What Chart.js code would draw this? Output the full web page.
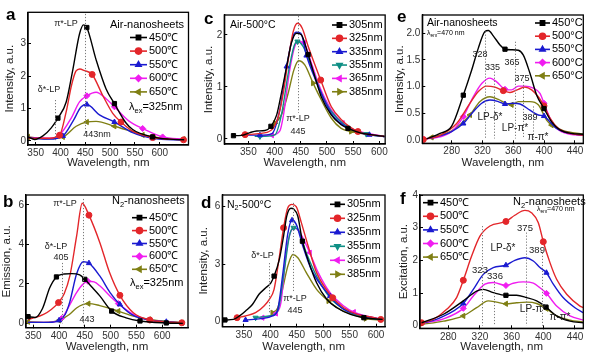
<!DOCTYPE html>
<html>
<head>
<meta charset="utf-8">
<script src="https://cdn.jsdelivr.net/npm/chart.js@4.4.1/dist/chart.umd.min.js"></script>
<style>
  html, body { margin: 0; padding: 0; background: #fff; width: 591px; height: 352px; overflow: hidden; }
  canvas { position: absolute; }
</style>
</head>
<body>
<canvas id="pa" width="197" height="176" style="left:0;top:0"></canvas>
<canvas id="pc" width="196" height="176" style="left:197px;top:0"></canvas>
<canvas id="pe" width="198" height="176" style="left:393px;top:0"></canvas>
<canvas id="pb" width="197" height="180" style="left:0;top:176px"></canvas>
<canvas id="pd" width="196" height="180" style="left:197px;top:176px"></canvas>
<canvas id="pf" width="198" height="180" style="left:393px;top:176px"></canvas>
<script>
// ---- data (wavelength nm, intensity a.u.) ----
const tempLabels = ['450℃', '500℃', '550℃', '600℃', '650℃'];
const tempLabelsE = ['450°C', '500°C', '550°C', '600°C', '650°C'];
const excLabels = ['305nm', '325nm', '335nm', '355nm', '365nm', '385nm'];

const xTicksEm = [350, 400, 450, 500, 550, 600];
const xTicksEx = [280, 320, 360, 400, 440];
const yTicksA = [0, 1, 2, 3];
const yTicksB = [0, 2, 4, 6];
const yTicksC = [0, 1, 2];
const yTicksD = [0, 3, 6];
const yTicksE = [0, 0.5, 1.0, 1.5, 2.0];
const yTicksF = [0, 1, 2, 3, 4];

// a: Air-nanosheets emission, λex=325nm
const a450 = [[334.5,0.12],[347.9,0.04],[364.6,0.15],[381.4,0.4],[394.8,0.7],[411.5,1.2],[424.9,2.2],[438.3,3.3],[446.4,3.58],[453.1,3.5],[471.8,2.5],[491.9,1.6],[508.7,1.15],[532.1,0.55],[545.5,0.35],[585.7,0.12],[619.2,0.05],[649.3,0.03]];
const a500 = [[334.5,0.08],[378,0.08],[398.1,0.17],[411.5,0.9],[422,1.7],[431,2.15],[439,2.22],[448,2.17],[463.8,2.05],[485.2,1.4],[505.3,0.85],[522,0.58],[545.5,0.3],[585.7,0.1],[619.2,0.05],[648,0.03]];
const a550 = [[334.5,0.1],[378,0.05],[404.8,0.15],[424.9,0.6],[441.7,1.05],[453.1,1.12],[478.5,0.8],[508.7,0.58],[545.5,0.25],[585.7,0.08],[648,0.02]];
const a600 = [[334.5,0.1],[378,0.08],[398.1,0.18],[421.6,0.7],[438.3,1.2],[453.1,1.39],[471.8,1.5],[491.9,1.3],[508.7,1.05],[538.8,0.6],[565.6,0.38],[605.8,0.12],[648,0.05]];
const a650 = [[334.5,0.12],[371.3,0.06],[404.8,0.12],[431.6,0.45],[453.1,0.58],[471.8,0.6],[508.7,0.45],[545.5,0.28],[565.6,0.18],[605.8,0.08],[648,0.05]];

// b: N2-nanosheets emission, λex=325nm
const b450 = [[340,0.34],[354,0.3],[368,0.75],[382,1.8],[395,2.35],[410,2.5],[425,2.52],[440,2.45],[450,2.23],[465,1.8],[479,1.39],[502,0.62],[530,0.28],[557,0.12],[608,0.02],[640,0]];
const b500 = [[340,0.2],[355,0.3],[370,0.45],[385,0.7],[399,1.05],[410,1.5],[421,2.4],[434,4.4],[445,6.08],[458,5.48],[479,4.1],[498,2.57],[518,1.42],[544,0.54],[576,0.17],[608,0.07],[638,0.03]];
const b550 = [[340,0.05],[380,0.05],[400,0.15],[412,0.45],[421,1.1],[434,2.5],[447,3.12],[458,3.05],[479,2.4],[499,1.56],[518,0.96],[544,0.4],[576,0.17],[608,0.08],[638,0.03]];
const b600 = [[340,0.05],[380,0.05],[405,0.25],[420,0.9],[434,1.56],[447,2.0],[456,2.13],[468,2.1],[479,1.9],[500,1.35],[515,1.0],[544,0.46],[576,0.17],[608,0.06],[638,0.03]];
const b650 = [[340,0.08],[370,0.05],[400,0.15],[420,0.45],[434,0.78],[446,0.95],[457,1.0],[479,0.9],[500,0.75],[515,0.62],[544,0.37],[575,0.2],[608,0.1],[638,0.03]];

// c: Air-500°C emission at several excitation wavelengths
const c305 = [[321.5,0.06],[337,0.065],[353,0.12],[366,0.15],[381.7,0.16],[393,0.24],[404,0.46],[413,0.88],[423,1.39],[432,1.84],[441.8,2.03],[451,2.0],[464,1.62],[476.6,1.2],[489,0.81],[508,0.46],[527,0.27],[540,0.2],[565,0.11],[584,0.08],[609.5,0.045]];
const c325 = [[336,0.08],[343.7,0.08],[369,0.1],[394,0.17],[407,0.43],[416.5,0.88],[426,1.52],[435.5,2.06],[443.7,2.22],[452.5,2.13],[464,1.78],[488,1.13],[508,0.62],[527,0.37],[559,0.14],[609.5,0.045]];
const c335 = [[345,0.07],[372,0.07],[395,0.1],[410,0.56],[423,1.39],[435,1.97],[441.8,2.05],[450,2.03],[460.8,1.6],[476.6,1.17],[508,0.49],[533,0.25],[565,0.11],[581,0.077],[609.5,0.04]];
const c355 = [[362,0.05],[372,0.045],[400.6,0.077],[413,0.46],[426,1.26],[437,1.78],[443.7,1.87],[454,1.78],[470,1.39],[489,0.88],[508,0.53],[533.6,0.27],[575,0.09],[609.5,0.045]];
const c365 = [[375,0.06],[395,0.07],[410,0.15],[416.5,0.43],[429,1.33],[438.6,1.78],[446,1.87],[456,1.84],[470,1.46],[486,1.0],[508,0.56],[530,0.3],[552.6,0.17],[609.5,0.045]];
const c385 = [[396,0.28],[400.6,0.3],[413,0.46],[426,0.88],[437,1.33],[446,1.5],[457.6,1.42],[473.4,1.07],[489,0.75],[508,0.4],[527,0.2],[546,0.14],[584,0.077],[609.5,0.05]];

// d: N2-500°C emission at several excitation wavelengths
const d305 = [[314,0.09],[330,0.12],[343,0.33],[353,0.56],[366,0.9],[378.5,1.43],[391.3,1.77],[401,2.03],[407,2.38],[417,3.25],[425,4.47],[431,5.51],[439,5.92],[444,5.88],[452,5.5],[460.6,4.2],[471,3.25],[487.5,2.03],[506.7,1.17],[526,0.73],[551.6,0.38],[577,0.21],[612.5,0.12]];
const d325 = [[337,0.21],[353,0.3],[372,0.47],[388,0.82],[398,1.17],[407,1.69],[416,3.2],[425,4.9],[433,5.95],[440.7,6.12],[449,6.0],[458.6,5.17],[471.5,3.95],[487.5,2.56],[518,1.25],[539,0.73],[564.6,0.38],[596.6,0.21],[609,0.12]];
const d335 = [[353,0.09],[382,0.16],[404,0.3],[414,0.64],[423,2.38],[433,4.6],[441,5.29],[449,5.08],[461.4,3.95],[477.4,2.73],[513,1.34],[539,0.64],[577,0.3],[612.5,0.12]];
const d355 = [[372,0.21],[397.8,0.3],[414,0.56],[425,2.38],[436,4.47],[444,4.9],[452,4.82],[468,3.6],[487.5,2.38],[513,1.25],[545,0.56],[575,0.25],[606,0.12]];
const d365 = [[385,0.21],[401,0.3],[410.6,0.43],[420,0.99],[430,3.6],[439,4.73],[445.6,4.87],[454,4.73],[474.5,3.6],[490.6,2.56],[513,1.51],[539,0.82],[558,0.5],[612.5,0.12]];
const d385 = [[404,0.47],[414,0.73],[423,1.69],[433,2.9],[442.6,3.51],[452,3.34],[468,2.56],[487.5,1.69],[510,1.08],[532,0.64],[564.6,0.3],[580.6,0.16],[612.5,0.09]];

// e: Air-nanosheets excitation, λem=470nm
const e450 = [[247.6,0.025],[264.9,0.125],[280,0.26],[295.1,0.84],[306,1.31],[314.6,1.72],[323.2,2.03],[327.6,2.05],[334,1.95],[342.7,1.78],[349.2,1.7],[357.8,1.69],[366.5,1.68],[373,1.59],[381.6,1.25],[390.3,0.84],[399.8,0.59],[409.7,0.34],[420.5,0.19],[435.7,0.125],[450.8,0.11]];
const e500 = [[243.2,0.01],[264.9,0.09],[286.5,0.31],[303.8,0.69],[314.6,0.91],[325.4,1.01],[336.2,0.99],[347,0.925],[355.7,0.89],[366.5,0.95],[375,0.99],[383.8,0.94],[392.4,0.81],[399.8,0.64],[407.6,0.41],[418.4,0.22],[433.5,0.125],[450.8,0.09]];
const e550 = [[252,0.03],[280,0.16],[295.1,0.31],[308,0.53],[319,0.69],[329.7,0.75],[340.5,0.72],[349.2,0.675],[360,0.69],[368.6,0.675],[381.6,0.56],[392.4,0.47],[399.8,0.45],[407.6,0.34],[416,0.22],[433.5,0.125],[450.8,0.09]];
const e600 = [[243.2,0.02],[264.9,0.06],[280,0.16],[295.1,0.44],[308,0.81],[319,1.06],[329.7,1.16],[338.4,1.09],[349.2,0.95],[357.8,0.94],[366.5,1.01],[375,1.01],[386,0.97],[394.6,0.875],[399.8,0.69],[407.6,0.41],[416,0.22],[433.5,0.11],[450.8,0.09]];
const e650 = [[254,0.05],[280,0.175],[303.8,0.47],[316.8,0.72],[329.7,0.81],[340.5,0.76],[349.2,0.7],[357.8,0.66],[366.5,0.72],[381.6,0.72],[392.4,0.66],[403.2,0.375],[409.7,0.28],[424.9,0.175],[450.8,0.11]];

// f: N2-nanosheets excitation, λem=470nm
const f450 = [[246.3,0.09],[274,0.35],[299,0.76],[315.8,1.06],[324.2,1.11],[336.8,1.01],[352.8,0.93],[366.3,0.93],[379,0.86],[391.6,0.76],[403.4,0.57],[416.8,0.3],[433.7,0.14],[450.5,0.09]];
const f500 = [[246.3,0.09],[261,0.19],[278,0.5],[290.5,0.86],[299,1.39],[309.5,2.13],[320,2.74],[332.6,3.05],[352.8,3.19],[364,3.38],[376.8,3.53],[385,3.46],[393.7,3.15],[400,2.57],[408.4,1.93],[416.8,1.42],[429.5,0.96],[446.3,0.6],[450.5,0.55]];
const f550 = [[246.3,0.07],[269.5,0.24],[299,0.68],[311.6,1.11],[324.2,1.57],[336.8,1.78],[352.8,1.85],[364,2.0],[376.8,2.08],[387.4,1.98],[395.8,1.78],[404,1.62],[412.6,1.27],[425,0.86],[440,0.55],[450.5,0.4]];
const f600 = [[246.3,0.07],[274,0.21],[299,0.53],[311.6,0.91],[326.3,1.27],[336.8,1.32],[352.8,1.23],[362,1.3],[374.7,1.34],[387.4,1.3],[395.8,1.16],[404,0.99],[416.8,0.6],[433.7,0.3],[450.5,0.17]];
const f650 = [[246.3,0.04],[274,0.14],[299,0.3],[315.8,0.55],[330.5,0.76],[341,0.72],[352.8,0.67],[366.3,0.7],[379,0.72],[391.6,0.68],[404,0.52],[416.8,0.3],[433.7,0.17],[450.5,0.11]];

// dotted guide lines: [wavelength, y from, y to]
const aGuides = [[450, 3.92, 0.25], [388, 1.26, 0.02]];
const bGuides = [[447, 6.3, -0.1], [405, 3.06, 0]];
const cGuides = [[445, 2.36, 0.5]];
const dGuides = [[443, 6.2, 1.6], [398, 3.06, 0.45]];
const eGuides = [[323.2, 2.03, 0.03], [334.9, 1.28, 0.03], [362.2, 1.84, 0.03], [373, 1.09, 0.03], [386, 0.63, 0.03]];
const fGuides = [[322, 3.05, 0], [337.7, 1.37, 0], [378, 2.85, 0], [398, 2.23, 0]];

// ---- styles ----
const FONT = 'Liberation Sans, Arial, sans-serif';
const COL = { k: '#000000', r: '#e3262a', b: '#1a1ad0', t: '#0f8f85', m: '#f01cf0', o: '#7f7f14' };
const SYM = {
  sq: ['rect', 0], ci: ['circle', 0], up: ['triangle', 0], dn: ['triangle', 180],
  di: ['rectRot', 0], lt: ['triangle', -90], rt: ['triangle', 90]
};

function drawRich(ctx, text, x, y, size, align, weight) {
  const parts = text.split(/_\{([^}]*)\}/);
  const fn = (i) => (weight || '') + ' ' + (i % 2 ? size * 0.68 : size) + 'px ' + FONT;
  let w = 0;
  parts.forEach((p, i) => { ctx.font = fn(i); w += ctx.measureText(p).width; });
  let cx = align === 'center' ? x - w / 2 : (align === 'right' ? x - w : x);
  ctx.textAlign = 'left';
  parts.forEach((p, i) => {
    ctx.font = fn(i);
    ctx.fillText(p, cx, i % 2 ? y + size * 0.32 : y);
    cx += ctx.measureText(p).width;
  });
}

const deco = {
  id: 'deco',
  afterDatasetsDraw(chart, args, o) {
    const { ctx, chartArea: ca, scales } = chart;
    ctx.save();
    ctx.translate(-o.ox, -o.oy); // page coordinates for texts
    ctx.translate(o.ox, o.oy);
    // dotted guides
    ctx.strokeStyle = '#7a7a7a';
    ctx.lineWidth = 1;
    ctx.setLineDash([1.2, 1.8]);
    o.guides.forEach(g => {
      const px = Math.round(scales.x.getPixelForValue(g[0])) + 0.5;
      ctx.beginPath();
      ctx.moveTo(px, scales.y.getPixelForValue(g[1]));
      ctx.lineTo(px, scales.y.getPixelForValue(g[2]));
      ctx.stroke();
    });
    ctx.setLineDash([]);
    // frame
    ctx.strokeStyle = '#000';
    ctx.lineWidth = 1.3;
    ctx.strokeRect(ca.left, ca.top, ca.right - ca.left, ca.bottom - ca.top);
    // legend
    const L = o.legend;
    chart.data.datasets.forEach((ds, i) => {
      const lx = L.x - o.ox, ly = L.y + i * L.dy - o.oy;
      ctx.strokeStyle = ds.borderColor;
      ctx.fillStyle = ds.borderColor;
      ctx.lineWidth = 1.6;
      ctx.beginPath(); ctx.moveTo(lx, ly); ctx.lineTo(lx + L.len, ly); ctx.stroke();
      Chart.helpers.drawPoint(ctx, { pointStyle: ds.pointStyle, rotation: ds.pointRotation, radius: 3, borderWidth: 1 }, lx + L.len / 2, ly);
      ctx.fillStyle = '#000';
      ctx.textBaseline = 'middle';
      drawRich(ctx, ds.label, lx + L.len + 2, ly, L.size, 'left');
    });
    // texts
    o.texts.forEach(t => {
      ctx.fillStyle = t.c || '#222';
      ctx.textBaseline = t.base || 'middle';
      drawRich(ctx, t.s, t.x - o.ox, t.y - o.oy, t.size, t.align || 'center', t.bold ? 'bold' : '');
    });
    ctx.restore();
  }
};

function makePanel(p) {
  new Chart(document.getElementById(p.id), {
    type: 'line',
    data: {
      datasets: p.series.map(s => ({
        label: s.label,
        data: s.pts.map(q => ({ x: q[0], y: q[1] })),
        borderColor: s.color,
        backgroundColor: s.color,
        borderWidth: 1.4,
        pointStyle: SYM[s.sym][0],
        pointRotation: SYM[s.sym][1],
        pointRadius: ctx => (s.marks.includes(ctx.dataIndex) ? 3 : 0),
        pointBorderWidth: 1,
        cubicInterpolationMode: 'monotone',
        fill: false
      }))
    },
    options: {
      responsive: false,
      animation: false,
      events: [],
      layout: { padding: p.pad },
      plugins: {
        legend: { display: false },
        tooltip: { enabled: false },
        deco: { ox: p.ox, oy: p.oy, guides: p.guides, texts: p.texts, legend: p.legend }
      },
      scales: {
        x: {
          type: 'linear', min: p.xr[0], max: p.xr[1],
          afterBuildTicks: s => { s.ticks = p.xt.map(v => ({ value: v })); },
          afterFit: s => { s.height = p.xh; },
          grid: { drawOnChartArea: false, drawTicks: true, tickLength: -3, color: '#000', tickWidth: 1 },
          border: { display: true, color: '#000', width: 1.3 },
          ticks: { autoSkip: false, maxRotation: 0, padding: p.xtp, color: '#333', font: { family: FONT, size: 10 } },
          title: { display: true, text: 'Wavelength, nm', color: '#222', font: { family: FONT, size: 11.5 }, padding: { top: 0, bottom: p.xtb } }
        },
        y: {
          type: 'linear', min: p.yr[0], max: p.yr[1],
          afterBuildTicks: s => { s.ticks = p.yt.map(v => ({ value: v })); },
          afterFit: s => { s.width = p.yw; },
          grid: { drawOnChartArea: false, drawTicks: true, tickLength: -3, color: '#000', tickWidth: 1 },
          border: { display: true, color: '#000', width: 1.3 },
          ticks: { padding: 5, color: '#333', font: { family: FONT, size: 10 }, callback: p.yfmt || (v => v) },
          title: { display: true, text: p.ytitle, color: '#222', font: { family: FONT, size: 11.5 }, padding: { top: p.ytp, bottom: 0 } }
        }
      }
    },
    plugins: [deco]
  });
}

const tempSeries = (arr, labels, marks) => arr.map((pts, i) => ({
  label: labels[i], pts, color: [COL.k, COL.r, COL.b, COL.m, COL.o][i],
  sym: ['sq', 'ci', 'up', 'di', 'lt'][i], marks: marks[i]
}));
const excSeries = (arr, marks) => arr.map((pts, i) => ({
  label: excLabels[i], pts, color: [COL.k, COL.r, COL.b, COL.t, COL.m, COL.o][i],
  sym: ['sq', 'ci', 'up', 'dn', 'lt', 'rt'][i], marks: marks[i]
}));

makePanel({
  id: 'pa', ox: 0, oy: 0, pad: { left: 0, right: 8.5, top: 12.3, bottom: 0 }, yw: 28, xh: 31,
  xr: [334.5, 658], yr: [-0.13, 3.97], xt: xTicksEm, yt: yTicksA, xtp: 5, xtb: 6.4, ytp: 3.4,
  ytitle: 'Intensity, a.u.',
  series: tempSeries([a450, a500, a550, a600, a650], tempLabels,
    [[4, 9, 12, 15], [2, 8, 11, 13, 15], [2, 5, 7, 9], [2, 5, 8, 10, 11], [0, 2, 4, 6, 8, 10]]),
  guides: aGuides,
  legend: { x: 130, y: 37.5, dy: 13.6, len: 17, size: 11 },
  texts: [
    { s: 'a', x: 6, y: 20, size: 17, bold: true, align: 'left', base: 'alphabetic', c: '#000' },
    { s: 'π*-LP', x: 66, y: 24, size: 9 },
    { s: 'δ*-LP', x: 49, y: 90, size: 9 },
    { s: '443nm', x: 97, y: 135, size: 9 },
    { s: 'Air-nanosheets', x: 110, y: 25, size: 11, align: 'left', c: '#000' },
    { s: 'λ_{ex}=325nm', x: 129, y: 107, size: 11, align: 'left', c: '#000' }
  ]
});

makePanel({
  id: 'pc', ox: 197, oy: 0, pad: { left: 0, right: 7.3, top: 15, bottom: 0 }, yw: 27.3, xh: 32,
  xr: [304, 611], yr: [-0.1, 2.38], xt: xTicksEm, yt: yTicksC, xtp: 5, xtb: 6.4, ytp: 5.4,
  ytitle: 'Intensity, a.u.',
  series: excSeries([c305, c325, c335, c355, c365, c385],
    [[0, 5, 12, 17], [1, 11, 14], [1, 4, 8, 13], [1, 6, 12], [1, 7, 11], [1, 7, 11]]),
  guides: cGuides,
  legend: { x: 332, y: 25, dy: 13.35, len: 15, size: 11 },
  texts: [
    { s: 'c', x: 204, y: 24, size: 17, bold: true, align: 'left', base: 'alphabetic', c: '#000' },
    { s: 'Air-500°C', x: 230, y: 25, size: 10.5, align: 'left', c: '#000' },
    { s: 'π*-LP', x: 298, y: 119, size: 9 },
    { s: '445', x: 298, y: 132, size: 9 }
  ]
});

makePanel({
  id: 'pe', ox: 393, oy: 0, pad: { left: 0, right: 7.7, top: 15, bottom: 0 }, yw: 29.3, xh: 32.7,
  xr: [241.9, 450.8], yr: [-0.06, 2.34], xt: xTicksEx, yt: yTicksE, xtp: 5, xtb: 6.4, ytp: 0,
  ytitle: 'Intensity, a.u.', yfmt: v => v.toFixed(1),
  series: tempSeries([e450, e500, e550, e600, e650], tempLabelsE,
    [[3, 10, 16], [0, 7, 13], [2, 7, 12], [0, 3, 8, 14], [0, 2, 7, 12]]),
  guides: eGuides,
  legend: { x: 535, y: 23, dy: 13.2, len: 15, size: 11 },
  texts: [
    { s: 'e', x: 397, y: 22, size: 17, bold: true, align: 'left', base: 'alphabetic', c: '#000' },
    { s: 'Air-nanosheets', x: 427, y: 23, size: 10.5, align: 'left', c: '#000' },
    { s: 'λ_{em}=470 nm', x: 427, y: 33, size: 7, align: 'left', c: '#000' },
    { s: '328', x: 480, y: 55, size: 9 },
    { s: '335', x: 492.5, y: 68, size: 9 },
    { s: '365', x: 512, y: 63, size: 9 },
    { s: '375', x: 522, y: 79, size: 9 },
    { s: '389', x: 530, y: 118, size: 9 },
    { s: 'LP-δ*', x: 490, y: 117, size: 10 },
    { s: 'LP-π*', x: 515, y: 128, size: 10 },
    { s: 'π-π*', x: 538, y: 137, size: 10 }
  ]
});

makePanel({
  id: 'pb', ox: 0, oy: 176, pad: { left: 0, right: 9, top: 19, bottom: 0 }, yw: 26, xh: 28.3,
  xr: [336, 650], yr: [-0.22, 6.5], xt: xTicksEm, yt: yTicksB, xtp: 6, xtb: 2.4, ytp: 0.4,
  ytitle: 'Emission, a.u.',
  series: tempSeries([b450, b500, b550, b600, b650], tempLabels,
    [[0, 4, 8, 11, 13, 14], [4, 9, 12, 14, 16], [2, 7, 10, 13], [2, 6, 10, 12], [0, 2, 6, 9, 11, 13]]),
  guides: bGuides,
  legend: { x: 132, y: 217.7, dy: 12.9, len: 15, size: 11 },
  texts: [
    { s: 'b', x: 3, y: 207, size: 17, bold: true, align: 'left', base: 'alphabetic', c: '#000' },
    { s: 'π*-LP', x: 65, y: 204, size: 9 },
    { s: 'δ*-LP', x: 56, y: 247, size: 9 },
    { s: '405', x: 61, y: 258, size: 9 },
    { s: '443', x: 87, y: 320, size: 9 },
    { s: 'N_{2}-nanosheets', x: 112, y: 201, size: 11, align: 'left', c: '#000' },
    { s: 'λ_{ex}=325nm', x: 130, y: 283, size: 11, align: 'left', c: '#000' }
  ]
});

makePanel({
  id: 'pd', ox: 197, oy: 176, pad: { left: 0, right: 8, top: 19, bottom: 0 }, yw: 25.3, xh: 29.3,
  xr: [309, 617], yr: [-0.26, 6.61], xt: xTicksEm, yt: yTicksD, xtp: 6, xtb: 2.4, ytp: 0.4,
  ytitle: 'Intensity, a.u.',
  series: excSeries([d305, d325, d335, d355, d365, d385],
    [[0, 8, 15, 21], [0, 7, 14, 18], [0, 6, 10], [0, 5, 11], [0, 2, 8, 12], [0, 8, 11]]),
  guides: dGuides,
  legend: { x: 330, y: 204.3, dy: 14, len: 15, size: 11 },
  texts: [
    { s: 'd', x: 201, y: 208, size: 17, bold: true, align: 'left', base: 'alphabetic', c: '#000' },
    { s: 'N_{2}-500°C', x: 227, y: 205, size: 10.5, align: 'left', c: '#000' },
    { s: 'δ*-LP', x: 262.5, y: 256, size: 9 },
    { s: 'π*-LP', x: 295, y: 299, size: 9 },
    { s: '445', x: 295, y: 311, size: 9 }
  ]
});

makePanel({
  id: 'pf', ox: 393, oy: 176, pad: { left: 0, right: 7.7, top: 19, bottom: 0 }, yw: 27, xh: 27.7,
  xr: [244.3, 450.5], yr: [-0.08, 4.0], xt: xTicksEx, yt: yTicksF, xtp: 6, xtb: 2.4, ytp: 4.4,
  ytitle: 'Excitation, a.u.',
  series: tempSeries([f450, f500, f550, f600, f650], tempLabels,
    [[6, 10], [0, 4, 8, 13], [2, 6, 11], [2, 6, 11], [2, 6, 10]]),
  guides: fGuides,
  legend: { x: 423, y: 202.7, dy: 13.6, len: 15, size: 11 },
  texts: [
    { s: 'f', x: 400, y: 204, size: 17, bold: true, align: 'left', base: 'alphabetic', c: '#000' },
    { s: 'N_{2}-nanosheets', x: 513, y: 202, size: 11, align: 'left', c: '#000' },
    { s: 'λ_{em}=470 nm', x: 537, y: 209, size: 7, align: 'left', c: '#000' },
    { s: '375', x: 525, y: 228, size: 9.5 },
    { s: 'LP-δ*', x: 503, y: 248, size: 10 },
    { s: '389', x: 537, y: 250, size: 9.5 },
    { s: '323', x: 480, y: 270, size: 9.5 },
    { s: '336', x: 495, y: 276, size: 9.5 },
    { s: 'LP-π*', x: 533, y: 309, size: 10 },
    { s: 'π-π*', x: 560, y: 317, size: 10 }
  ]
});
</script>
</body>
</html>
